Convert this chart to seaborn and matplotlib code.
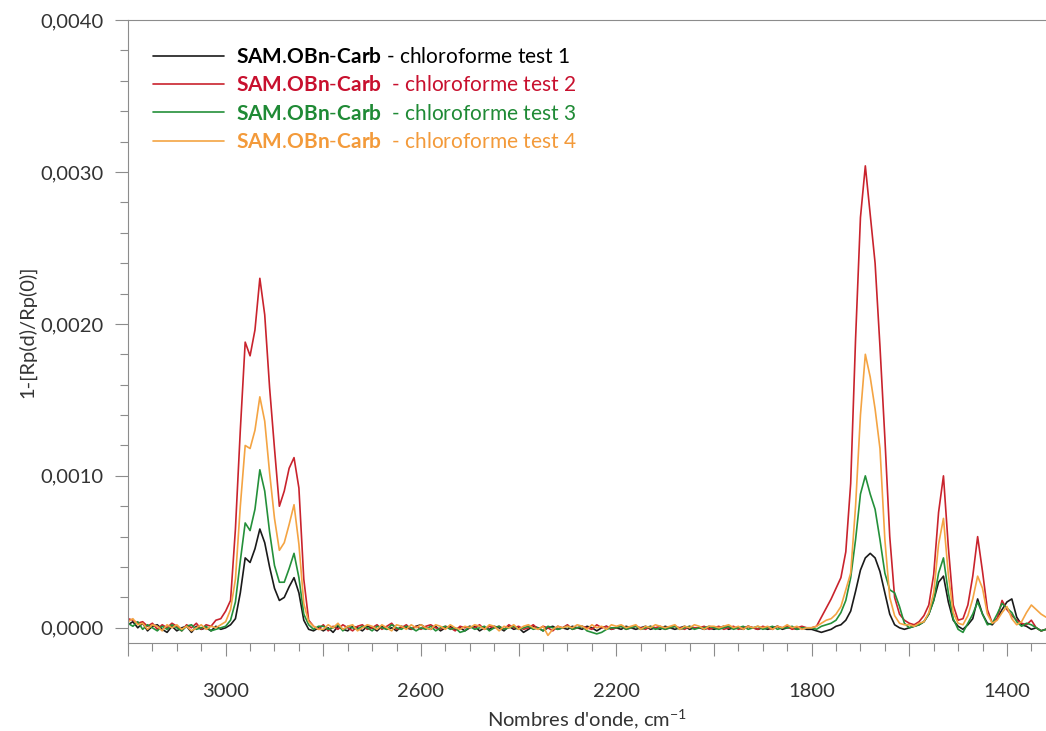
import numpy as np
import pandas as pd
import matplotlib
matplotlib.use("Agg")
import matplotlib.pyplot as plt
from matplotlib.lines import Line2D
from matplotlib.ticker import MultipleLocator, FuncFormatter
import seaborn as sns

# wavenumber grid (cm-1), one reading every 10 cm-1 from 3200 down to 1320
wavenumber = np.arange(3200, 1310, -10)

# 1-[Rp(d)/Rp(0)], in units of 1e-4 (one row = 100 cm-1)
test1 = [
    0.2, 0.4, 0.0, 0.3, -0.2, 0.1, 0.2, -0.1, -0.3, 0.1,
    -0.2, 0.0, 0.1, -0.3, 0.1, -0.1, 0.0, -0.2, 0.1, -0.1,
    0.0, 0.2, 0.6, 2.3, 4.6, 4.3, 5.2, 6.5, 5.6, 4.0,
    2.6, 1.8, 2.0, 2.7, 3.3, 2.3, 0.5, -0.1, -0.2, 0.0,
    -0.2, 0.0, -0.3, 0.1, -0.1, -0.2, 0.1, 0.0, -0.2, 0.1,
    0.0, -0.2, 0.1, -0.1, 0.0, -0.2, 0.1, 0.0, -0.1, 0.1,
    0.2, 0.0, -0.1, 0.1, -0.2, 0.0, 0.1, -0.1, 0.0, -0.2,
    0.0, 0.1, -0.2, 0.0, -0.1, 0.1, 0.0, -0.2, 0.1, -0.1,
    0.0, -0.3, -0.1, 0.1, 0.0, -0.2, 0.0, 0.1, -0.1, 0.0,
    -0.1, 0.1, 0.0, -0.1, 0.1, 0.0, -0.2, 0.0, 0.1, -0.1,
    0.0, -0.1, 0.1, 0.0, -0.1, 0.0, 0.1, -0.1, 0.0, -0.1,
    0.1, 0.0, -0.1, 0.0, 0.1, -0.1, 0.0, 0.0, -0.1, 0.0,
    -0.1, 0.0, 0.1, -0.1, 0.0, 0.0, -0.1, 0.1, 0.0, -0.1,
    0.0, -0.1, 0.0, 0.1, -0.1, 0.0, 0.0, -0.1, 0.0, -0.1,
    -0.1, -0.2, -0.3, -0.2, -0.1, 0.1, 0.2, 0.5, 1.1, 2.4,
    3.8, 4.6, 4.9, 4.6, 3.7, 2.3, 0.9, 0.2, 0.0, -0.1,
    0.0, 0.1, 0.2, 0.4, 0.9, 1.8, 3.0, 3.4, 1.7, 0.5,
    0.1, -0.1, 0.2, 0.6, 1.9, 0.9, 0.3, 0.2, 0.6, 1.2,
    1.7, 1.9, 0.7, 0.2, 0.1, -0.1, 0.0, -0.2, -0.1,
]
test2 = [
    0.6, 0.5, 0.3, 0.4, 0.1, 0.3, -0.1, 0.2, 0.0, 0.3,
    0.1, -0.2, 0.2, 0.0, 0.3, -0.1, 0.2, 0.1, 0.5, 0.6,
    1.1, 1.8, 6.5, 13.0, 18.8, 17.9, 19.6, 23.0, 20.6, 15.8,
    11.8, 8.0, 9.0, 10.5, 11.2, 9.2, 3.2, 0.5, 0.1, -0.1,
    0.2, -0.2, 0.1, -0.1, 0.2, 0.0, -0.2, 0.1, 0.2, -0.1,
    0.0, 0.2, -0.1, 0.1, 0.3, -0.1, 0.0, 0.2, -0.1, 0.1,
    -0.1, 0.1, 0.2, 0.0, -0.1, 0.1, 0.0, -0.2, 0.1, 0.0,
    0.1, 0.0, 0.2, -0.1, 0.1, 0.0, 0.1, -0.1, 0.2, 0.0,
    0.1, -0.1, 0.0, 0.2, -0.1, 0.1, 0.0, -0.2, 0.1, 0.0,
    0.2, -0.1, 0.0, 0.1, 0.0, -0.1, 0.2, 0.0, 0.1, -0.1,
    0.0, 0.1, -0.1, 0.0, 0.1, 0.0, -0.1, 0.1, 0.0, 0.1,
    -0.1, 0.0, 0.1, 0.0, -0.1, 0.1, 0.0, 0.0, 0.1, -0.1,
    0.0, 0.1, -0.1, 0.0, 0.1, -0.1, 0.0, 0.1, 0.0, -0.1,
    0.1, 0.0, -0.1, 0.1, 0.0, 0.1, -0.1, 0.0, 0.1, 0.0,
    0.0, 0.1, 0.7, 1.3, 1.9, 2.6, 3.3, 5.0, 9.5, 19.0,
    27.0, 30.4, 27.2, 24.0, 18.5, 12.5, 6.0, 2.0, 0.9, 0.5,
    0.3, 0.2, 0.4, 0.8, 1.5, 3.5, 7.6, 10.0, 5.3, 1.5,
    0.5, 0.6, 1.5, 3.4, 6.0, 3.7, 1.2, 0.3, 0.6, 1.8,
    1.2, 0.8, 0.5, 0.3, 0.2, 0.5, 0.0, -0.2, -0.1,
]
test3 = [
    0.3, 0.1, 0.4, -0.1, 0.2, 0.0, -0.2, 0.1, -0.1, 0.2,
    0.0, -0.2, 0.1, 0.2, -0.1, 0.0, 0.1, -0.2, -0.1, 0.0,
    0.1, 0.5, 1.7, 4.4, 6.9, 6.4, 7.8, 10.4, 9.0, 6.3,
    4.1, 3.0, 3.0, 3.9, 4.9, 3.3, 0.9, 0.2, -0.1, 0.1,
    0.1, -0.1, 0.0, 0.2, -0.2, 0.1, 0.0, -0.1, 0.1, 0.0,
    -0.2, 0.1, 0.0, -0.1, 0.2, 0.0, -0.1, 0.1, 0.0, -0.2,
    0.0, -0.1, 0.1, -0.2, 0.0, 0.1, -0.1, 0.0, -0.3, -0.2,
    0.1, -0.1, 0.0, 0.1, -0.2, 0.0, 0.1, -0.1, 0.0, 0.1,
    -0.1, 0.0, 0.1, -0.1, 0.0, -0.2, 0.1, 0.0, -0.1, 0.0,
    0.1, -0.1, 0.0, 0.1, -0.2, -0.3, -0.4, -0.3, -0.1, 0.0,
    0.0, 0.1, -0.1, 0.0, 0.1, -0.1, 0.0, 0.1, -0.1, 0.0,
    -0.1, 0.0, 0.1, -0.1, 0.0, 0.1, -0.1, 0.0, 0.0, 0.1,
    0.0, -0.1, 0.0, 0.1, -0.1, 0.0, 0.1, -0.1, 0.0, 0.1,
    -0.1, 0.0, 0.1, -0.1, 0.0, 0.0, 0.1, -0.1, 0.0, 0.0,
    0.0, -0.1, 0.1, 0.2, 0.3, 0.5, 1.0, 1.8, 3.3, 5.8,
    8.8, 10.0, 8.8, 7.8, 5.8, 3.6, 2.5, 2.3, 1.4, 0.3,
    0.0, 0.1, 0.2, 0.4, 0.9, 1.8, 3.6, 4.6, 2.3, 0.6,
    -0.1, -0.3, 0.3, 0.9, 1.7, 0.9, 0.2, 0.3, 0.9, 1.6,
    1.3, 1.0, 0.4, 0.1, 0.3, 0.2, 0.0, -0.2, -0.1,
]
test4 = [
    0.4, 0.6, 0.2, 0.3, -0.1, 0.2, 0.1, -0.2, 0.2, 0.0,
    0.2, -0.1, 0.1, -0.2, 0.0, 0.2, -0.1, 0.1, 0.0, 0.2,
    0.4, 1.2, 3.2, 8.0, 12.0, 11.8, 13.0, 15.2, 13.6, 10.2,
    7.2, 5.1, 5.6, 6.8, 8.1, 5.5, 1.6, 0.4, 0.1, -0.1,
    -0.1, 0.2, 0.0, 0.3, -0.1, 0.1, 0.2, -0.2, 0.0, 0.2,
    0.1, -0.1, 0.2, 0.0, -0.2, 0.2, 0.1, -0.1, 0.2, 0.0,
    0.2, 0.0, -0.1, 0.2, 0.1, -0.1, 0.2, 0.0, -0.1, 0.1,
    0.0, 0.2, 0.1, -0.1, 0.2, 0.1, -0.2, 0.1, 0.0, 0.2,
    -0.1, 0.1, 0.2, 0.0, -0.1, 0.1, -0.5, -0.1, 0.1, 0.0,
    0.1, 0.0, 0.2, 0.1, -0.1, 0.2, 0.0, 0.1, -0.1, 0.2,
    0.1, 0.2, 0.0, 0.1, 0.2, -0.1, 0.1, 0.0, 0.2, 0.1,
    0.0, 0.1, 0.2, -0.1, 0.1, 0.0, 0.2, 0.1, -0.1, 0.1,
    0.1, 0.0, 0.1, 0.2, 0.0, 0.1, -0.1, 0.1, 0.0, 0.1,
    0.0, 0.1, -0.1, 0.1, 0.0, 0.2, 0.0, 0.1, -0.1, 0.0,
    0.0, 0.1, 0.3, 0.5, 0.6, 0.9, 1.4, 2.5, 3.6, 8.0,
    14.0, 18.0, 16.5, 14.4, 11.8, 5.8, 2.0, 0.8, 0.3, 0.2,
    0.2, 0.1, 0.3, 0.4, 1.0, 2.3, 5.5, 7.2, 3.5, 1.0,
    0.3, 0.2, 0.8, 1.9, 3.4, 2.6, 0.9, 0.3, 0.5, 1.0,
    1.4, 0.6, 0.2, 0.4, 1.0, 1.5, 1.2, 0.9, 0.7,
]

series_names = ["test 1", "test 2", "test 3", "test 4"]
series_values = [test1, test2, test3, test4]
line_colors = ["#1a1a1a", "#c9232d", "#24903a", "#f4a443"]
text_colors = ["#000000", "#c8102e", "#1f8a35", "#f39a3a"]
legend_labels = [
    r"$\mathbf{SAM}$.$\mathbf{OBn}$-$\mathbf{Carb}$ - chloroforme test 1",
    r"$\mathbf{SAM}$.$\mathbf{OBn}$-$\mathbf{Carb}$  - chloroforme test 2",
    r"$\mathbf{SAM}$.$\mathbf{OBn}$-$\mathbf{Carb}$  - chloroforme test 3",
    r"$\mathbf{SAM}$.$\mathbf{OBn}$-$\mathbf{Carb}$  - chloroforme test 4",
]

df = pd.concat(
    [pd.DataFrame({"wn": wavenumber, "val": np.array(v) * 1e-4, "test": n})
     for n, v in zip(series_names, series_values)],
    ignore_index=True,
)

sns.set_theme(style="ticks")
plt.rcParams["font.family"] = ["Lato", "DejaVu Sans"]
plt.rcParams["mathtext.fontset"] = "custom"
plt.rcParams["mathtext.rm"] = "Lato"
plt.rcParams["mathtext.bf"] = "Lato:bold"
plt.rcParams["mathtext.it"] = "Lato:italic"

fig = plt.figure(figsize=(10.46, 7.31), dpi=100)
ax = fig.add_axes([128 / 1046, 88 / 731, 918 / 1046, 623 / 731])

sns.lineplot(data=df, x="wn", y="val", hue="test", hue_order=series_names,
             palette=dict(zip(series_names, line_colors)), linewidth=1.2,
             errorbar=None, legend=False, ax=ax)

ax.set_xlim(3200, 1320)
ax.set_ylim(-0.0001, 0.0040)

ax.xaxis.set_major_locator(MultipleLocator(200))
ax.xaxis.set_minor_locator(MultipleLocator(50))
ax.xaxis.set_major_formatter(
    FuncFormatter(lambda v, p: f"{v:.0f}" if round(3000 - v) % 400 == 0 else ""))
ax.yaxis.set_major_locator(MultipleLocator(0.001))
ax.yaxis.set_minor_locator(MultipleLocator(0.0002))
ax.yaxis.set_major_formatter(FuncFormatter(lambda v, p: f"{v:.4f}".replace(".", ",")))

grey = "#8c8c8c"
ax.tick_params(which="major", length=9.5, width=0.8, color=grey,
               labelsize=14.5, labelcolor="#333333")
ax.tick_params(which="minor", length=5.5, width=0.8, color=grey)
ax.tick_params(axis="x", which="major", pad=19)
ax.tick_params(axis="y", which="major", pad=8)

for side in ["left", "bottom", "top"]:
    ax.spines[side].set_color(grey)
    ax.spines[side].set_linewidth(0.8)
ax.spines["right"].set_visible(False)

ax.set_xlabel("Nombres d'onde, cm$^{-1}$", fontsize=14.5, color="#333333", labelpad=6)
ax.set_ylabel("1-[Rp(d)/Rp(0)]", fontsize=14.5, color="#333333")
ax.yaxis.set_label_coords(-0.1, 0.5)

handles = [Line2D([], [], color=c, lw=1.2) for c in line_colors]
leg = ax.legend(handles, legend_labels, loc="upper left", bbox_to_anchor=(0.018, 0.97),
                frameon=False, fontsize=15, handlelength=3.4, handletextpad=0.6,
                labelspacing=0.4, borderaxespad=0)
for t, c in zip(leg.get_texts(), text_colors):
    t.set_color(c)

fig.savefig("out.png", dpi=100)
